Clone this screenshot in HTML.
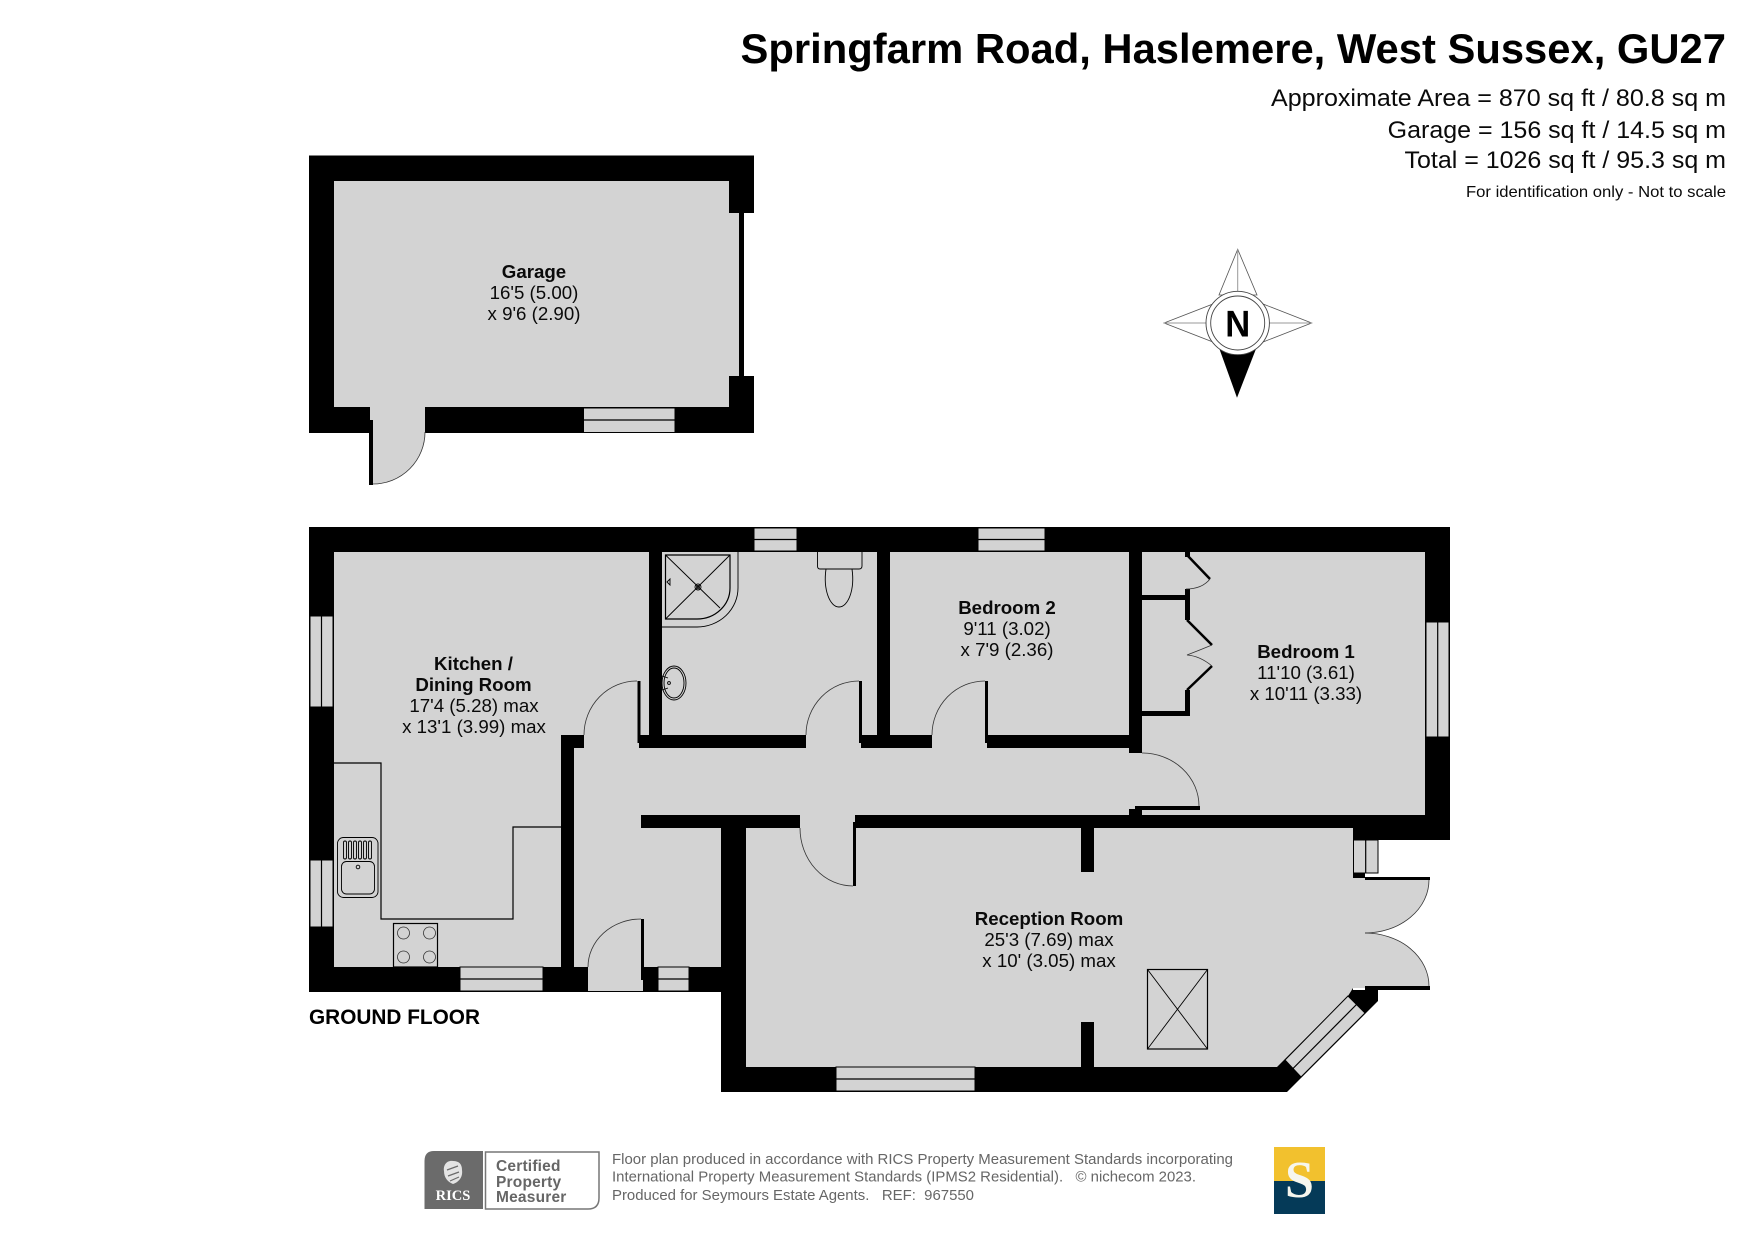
<!DOCTYPE html>
<html><head><meta charset="utf-8"><title>Springfarm Road floor plan</title>
<style>
html,body{margin:0;padding:0;background:#fff}
svg{display:block}
text{font-family:"Liberation Sans",sans-serif;fill:#0a0a0a}
.b{font-weight:700;font-size:18.7px;text-anchor:middle}
.r{font-size:18.7px;text-anchor:middle}
.w{fill:#d3d3d3;stroke:#000;stroke-width:1}
.l{fill:none;stroke:#000;stroke-width:1.2}
.t{fill:none;stroke:#000;stroke-width:.9}
.a{fill:none;stroke:#333;stroke-width:.8}
.f{font-size:14.5px;fill:#666}
.c{font-weight:700;font-size:15.5px;fill:#666;letter-spacing:.2px}
</style></head><body>
<svg width="1755" height="1241" viewBox="0 0 1755 1241" xmlns="http://www.w3.org/2000/svg">
<rect width="1755" height="1241" fill="#fff"/>

<!-- Title -->
<text x="740.5" y="63" font-size="42" font-weight="700" textLength="985.5" lengthAdjust="spacingAndGlyphs" style="fill:#000">Springfarm Road, Haslemere, West Sussex, GU27</text>
<text x="1271" y="106" font-size="24" textLength="455" lengthAdjust="spacingAndGlyphs">Approximate Area = 870 sq ft / 80.8 sq m</text>
<text x="1387.7" y="138" font-size="24" textLength="338.3" lengthAdjust="spacingAndGlyphs">Garage = 156 sq ft / 14.5 sq m</text>
<text x="1404.5" y="168" font-size="24" textLength="321.5" lengthAdjust="spacingAndGlyphs">Total = 1026 sq ft / 95.3 sq m</text>
<text x="1466" y="197" font-size="16" textLength="260" lengthAdjust="spacingAndGlyphs">For identification only - Not to scale</text>

<!-- Garage -->
<rect x="309" y="155.5" width="445" height="277.5" fill="#000"/>
<rect x="334" y="181" width="395" height="226" fill="#d3d3d3"/>
<rect x="729" y="213" width="10" height="163" fill="#d3d3d3"/>
<rect x="744" y="213" width="10.5" height="163" fill="#fff"/>
<rect x="370" y="407" width="55" height="26" fill="#d3d3d3"/>
<path d="M373,432H425A52,52 0 0 1 373,484Z" fill="#d3d3d3"/>
<path d="M425,432A52,52 0 0 1 373,484" class="a"/>
<rect x="369" y="420" width="4" height="65" fill="#000"/>
<rect x="583.5" y="408" width="91.5" height="24.5" class="w"/><path d="M584,420H675" class="l"/>
<text class="b" x="534" y="278">Garage</text>
<text class="r" x="534" y="299">16'5 (5.00)</text>
<text class="r" x="534" y="320">x 9'6 (2.90)</text>

<!-- Compass -->
<g stroke="#555" stroke-width=".8" fill="#fff">
<path d="M1237.7,249.3L1257,295H1219Z"/>
<path d="M1164,323L1213,304V342Z"/>
<path d="M1311.7,323L1263,304V342Z"/>
</g>
<path d="M1237.7,249.3V295M1164,323H1213M1311.7,323H1263" stroke="#999" stroke-width="1"/>
<path d="M1218,345H1257.5L1237,397.7Z" fill="#000"/>
<circle cx="1237.7" cy="323" r="31.7" fill="#fff" stroke="#444" stroke-width=".9"/>
<circle cx="1237.7" cy="323" r="27" fill="#fff" stroke="#444" stroke-width=".9"/>
<text x="1237.7" y="336.7" font-size="37" font-weight="700" text-anchor="middle" style="fill:#000" textLength="25" lengthAdjust="spacingAndGlyphs">N</text>

<!-- Ground floor walls -->
<path d="M309,527H1450V840H1353V990H1378V1001L1287,1092H721V992H309Z" fill="#000"/>
<g fill="#d3d3d3">
<rect x="334" y="552" width="315" height="183"/>
<rect x="334" y="735" width="227" height="232"/>
<rect x="584" y="735" width="55" height="14"/>
<rect x="662" y="552" width="215" height="183"/>
<rect x="890" y="552" width="239" height="183"/>
<rect x="1142" y="552" width="283" height="263"/>
<rect x="574" y="748" width="568" height="67"/>
<rect x="1129" y="753" width="13" height="56"/>
<rect x="574" y="748" width="67" height="219"/>
<rect x="641" y="828" width="80" height="139"/>
<rect x="806" y="735" width="55" height="14"/>
<rect x="932" y="735" width="55" height="14"/>
<rect x="800" y="814" width="55" height="15"/>
<rect x="588" y="966" width="55" height="25"/>
<path d="M746,828H1353V988L1348,996L1277,1067H746Z"/>
<rect x="1353" y="878" width="12" height="110"/>
<path d="M1365,880H1429A64,53 0 0 1 1365,933Z"/>
<path d="M1365,986H1429A64,53 0 0 0 1365,933Z"/>
</g>
<g fill="#000">
<rect x="1129" y="735" width="13" height="18"/>
<rect x="1081" y="828" width="13" height="44"/>
<rect x="1081" y="1022" width="13" height="45"/>
<rect x="637.5" y="681" width="3" height="62"/>
<rect x="859" y="681" width="3" height="62"/>
<rect x="985" y="681" width="3" height="62"/>
<rect x="853" y="822" width="3" height="64"/>
<rect x="641" y="919" width="3" height="61"/>
<rect x="1135" y="806" width="65" height="4"/>
<rect x="1129" y="809" width="13" height="6"/>
<rect x="1353" y="873" width="12" height="5"/>
<rect x="1365" y="877" width="65" height="3"/>
<rect x="1365" y="986" width="65" height="4"/>
<!-- closets -->
<rect x="1142" y="595" width="48" height="5"/>
<rect x="1142" y="711" width="48" height="5"/>
<rect x="1185" y="552" width="5" height="5"/>
<rect x="1185" y="589" width="5" height="31"/>
<rect x="1185" y="690" width="5" height="26"/>
</g>
<path d="M1187,555L1210,579M1187,620L1212,645M1212,666L1187,690" stroke="#000" stroke-width="2.5" fill="none"/>
<path d="M1210,579Q1202,589 1186,589M1212,645Q1200,650 1187,655Q1200,656 1212,666" class="a"/>

<!-- door arcs -->
<g class="a">
<path class="a" d="M584,735A53,54 0 0 1 637,681"/>
<path class="a" d="M806,735A53,54 0 0 1 859,681"/>
<path class="a" d="M932,735A53,54 0 0 1 985,681"/>
<path class="a" d="M800,828A53,58 0 0 0 853,886"/>
<path class="a" d="M588,967A53,48 0 0 1 641,919"/>
<path class="a" d="M1142,753A57,53 0 0 1 1199,806"/>
<path class="a" d="M1429,880A64,53 0 0 1 1365,933"/>
<path class="a" d="M1365,933A64,53 0 0 1 1429,986"/>
</g>

<!-- windows -->
<rect x="310" y="616" width="23" height="91" class="w"/><path d="M321.5,616V707" class="l"/>
<rect x="310" y="860" width="23" height="67" class="w"/><path d="M321.5,860V927" class="l"/>
<rect x="460" y="967" width="83" height="24" class="w"/><path d="M460,979H543" class="l"/>
<rect x="658" y="967" width="31" height="24" class="w"/><path d="M658,979H689" class="l"/>
<rect x="754" y="528" width="43" height="23" class="w"/><path d="M754,539.5H797" class="l"/>
<rect x="978" y="528" width="67" height="23" class="w"/><path d="M978,539.5H1045" class="l"/>
<rect x="1426" y="622" width="23" height="115" class="w"/><path d="M1437.7,622V737" class="l"/>
<rect x="836" y="1067" width="139" height="24" class="w"/><path d="M836,1079H975" class="l"/>
<rect x="1353.5" y="840" width="24.5" height="33" class="w"/><path d="M1365.7,840V873" class="l"/>
<path d="M1348,996L1365,1013L1301,1077L1285,1060Z" class="w"/><path d="M1356.5,1004.5L1293,1068.5" class="l"/>

<!-- kitchen fittings -->
<path d="M334,763H381V919H513V827H561" class="l"/>
<rect x="337.5" y="837.5" width="40.5" height="60" rx="6" class="t"/>
<rect x="341.5" y="861.5" width="33" height="32.5" rx="5" class="t"/>
<g class="t"><rect class="t" x="343.5" y="841" width="3" height="18" rx="1.5"/><rect class="t" x="348.5" y="841" width="3" height="18" rx="1.5"/><rect class="t" x="353.5" y="841" width="3" height="18" rx="1.5"/><rect class="t" x="358.5" y="841" width="3" height="18" rx="1.5"/><rect class="t" x="363.5" y="841" width="3" height="18" rx="1.5"/><rect class="t" x="368.5" y="841" width="3" height="18" rx="1.5"/></g>
<circle cx="358" cy="867" r="1.8" class="t"/>
<rect x="393.5" y="923.5" width="44" height="43.5" class="l"/>
<circle cx="403.5" cy="933" r="6" class="a"/><circle cx="429.5" cy="933" r="6" class="a"/>
<circle cx="403.5" cy="957" r="6" class="a"/><circle cx="429.5" cy="957" r="6" class="a"/>

<!-- bathroom fittings -->
<path d="M665.5,555H730V588A33,31 0 0 1 697,619H665.5Z" class="l"/>
<path d="M665.5,555L720,608M730,555L665.5,619" class="t"/>
<circle cx="698" cy="587" r="3" class="t"/><circle cx="698" cy="587" r="1.4" class="t"/>
<path d="M667,582L670,579V585Z" class="t"/>
<path d="M738,552V588A41,39 0 0 1 697,627H662" class="t"/>
<path d="M817.5,552V566Q817.5,569 820,569H859Q862,569 862,566V552" class="t"/>
<path d="M826,569C823,590 830,607 839,607C848,607 855,590 852,569" class="t"/>
<ellipse cx="674" cy="683" rx="12" ry="17" class="t"/><ellipse cx="674" cy="683" rx="10" ry="15" class="t"/>
<circle cx="669" cy="683" r="1.4" class="t"/>
<path d="M662,676L668,678M662,690L668,688" class="t"/>

<!-- skylight -->
<rect x="1147.5" y="969.5" width="60" height="79.5" class="l"/>
<path d="M1147.5,969.5L1207.5,1049M1207.5,969.5L1147.5,1049" class="t"/>

<!-- labels -->
<text class="b" x="473.5" y="670">Kitchen /</text>
<text class="b" x="473.5" y="691">Dining Room</text>
<text class="r" x="474" y="712">17'4 (5.28) max</text>
<text class="r" x="474" y="733">x 13'1 (3.99) max</text>
<text class="b" x="1007" y="614">Bedroom 2</text>
<text class="r" x="1007" y="635">9'11 (3.02)</text>
<text class="r" x="1007" y="656">x 7'9 (2.36)</text>
<text class="b" x="1306" y="658">Bedroom 1</text>
<text class="r" x="1306" y="679">11'10 (3.61)</text>
<text class="r" x="1306" y="700">x 10'11 (3.33)</text>
<text class="b" x="1049" y="925">Reception Room</text>
<text class="r" x="1049" y="946">25'3 (7.69) max</text>
<text class="r" x="1049" y="967">x 10' (3.05) max</text>
<text x="309" y="1024" font-size="20.8" font-weight="700" style="fill:#000">GROUND FLOOR</text>

<!-- footer -->
<path d="M434,1151H483V1209H424.5V1161Q424.5,1151 434,1151Z" fill="#6b6b6b"/>
<path d="M453,1161C447,1160 443,1165 444,1171C444,1178 448,1182 453,1184C459,1182 463,1177 462,1170C462,1164 459,1161 453,1161Z" fill="#e4e4e4"/>
<path d="M447,1170L458,1166M448,1176L459,1172M450,1181L459,1177" stroke="#6b6b6b" stroke-width="1.2"/>
<text x="453" y="1200" font-size="14.5" font-weight="700" text-anchor="middle" style="fill:#fff;font-family:'Liberation Serif',serif">RICS</text>
<path d="M485.5,1152H599V1198Q599,1209 588,1209H485.5Z" fill="#fff" stroke="#777" stroke-width="1.5"/>
<text class="c" x="496" y="1171">Certified</text>
<text class="c" x="496" y="1187">Property</text>
<text class="c" x="496" y="1202">Measurer</text>
<text class="f" x="612" y="1164" textLength="621" lengthAdjust="spacingAndGlyphs">Floor plan produced in accordance with RICS Property Measurement Standards incorporating</text>
<text class="f" x="612" y="1181.5" xml:space="preserve" textLength="584" lengthAdjust="spacingAndGlyphs">International Property Measurement Standards (IPMS2 Residential).   © nichecom 2023.</text>
<text class="f" x="612" y="1200" xml:space="preserve" textLength="362" lengthAdjust="spacingAndGlyphs">Produced for Seymours Estate Agents.   REF:  967550</text>
<rect x="1274" y="1147" width="51" height="34" fill="#f2c12e"/>
<rect x="1274" y="1181" width="51" height="33" fill="#053a58"/>
<text x="1299.5" y="1197" font-size="52" text-anchor="middle" font-weight="700" style="fill:#f6f6ee;font-family:'Liberation Serif',serif">S</text>
</svg>
</body></html>
